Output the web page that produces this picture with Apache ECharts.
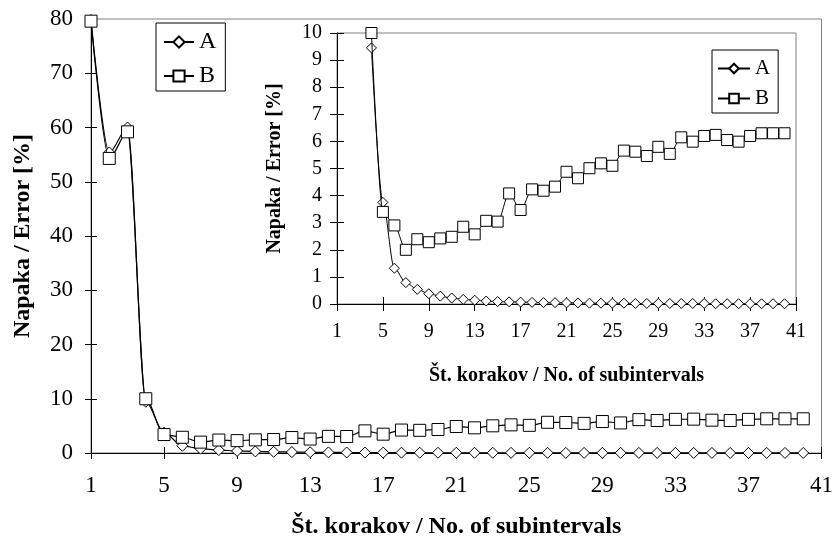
<!DOCTYPE html>
<html>
<head>
<meta charset="utf-8">
<style>
  html, body { margin: 0; padding: 0; background: #fff; }
  #error-chart { width: 836px; height: 544px; }
</style>
<script src="https://cdn.jsdelivr.net/npm/echarts@6/dist/echarts.min.js"></script>
</head>
<body>
<div id="error-chart"></div>
<script>
// step counts on the x axis (1..41), data exists for 1..40
const steps = [1, 2, 3, 4, 5, 6, 7, 8, 9, 10, 11, 12, 13, 14, 15, 16, 17, 18, 19, 20,
  21, 22, 23, 24, 25, 26, 27, 28, 29, 30, 31, 32, 33, 34, 35, 36, 37, 38, 39, 40, 41];

const errorA = [79.8, 55.4, 60.0, 9.45, 3.75, 1.32, 0.79, 0.54, 0.38, 0.29,
  0.22, 0.17, 0.14, 0.11, 0.09, 0.08, 0.07, 0.06, 0.05, 0.05,
  0.04, 0.04, 0.03, 0.03, 0.03, 0.03, 0.02, 0.02, 0.02, 0.02,
  0.02, 0.02, 0.02, 0.01, 0.01, 0.01, 0.01, 0.01, 0.01, 0.01];

const errorB = [79.6, 54.3, 59.2, 10.0, 3.4, 2.9, 2.0, 2.39, 2.28, 2.42,
  2.48, 2.85, 2.57, 3.07, 3.04, 4.08, 3.47, 4.23, 4.18, 4.33,
  4.88, 4.64, 5.01, 5.19, 5.10, 5.66, 5.62, 5.46, 5.80, 5.54,
  6.15, 5.99, 6.20, 6.24, 6.05, 5.99, 6.20, 6.30, 6.30, 6.30];

// inset only shows from step 4 on
const insetFrom = 4;

const font = "'Liberation Serif', 'Times New Roman', serif";

let initChart = () => {
  let chart = document.getElementById("error-chart");
  let errorChart = echarts.init(chart);

  let insetA = errorA.map((v, i) => (steps[i] >= insetFrom ? v : null));
  let insetB = errorB.map((v, i) => (steps[i] >= insetFrom ? v : null));

  // category axis, ticks/labels every 4th step; "inner" copy gives the crossing ticks
  let xCat = (grid, inner, len, labelSize, margin, name, nameSize, nameGap) => ({
    type: "category",
    gridIndex: grid,
    position: "bottom",
    data: steps,
    boundaryGap: false,
    axisLine: { show: !inner, onZero: false, lineStyle: { color: "#000", width: 1 } },
    axisTick: { show: true, inside: inner, length: len, interval: 3, lineStyle: { color: "#000" } },
    axisLabel: {
      show: !inner,
      interval: 3,
      margin: margin,
      color: "#000",
      fontFamily: font,
      fontSize: labelSize,
    },
    name: inner ? "" : name,
    nameLocation: "middle",
    nameGap: nameGap,
    nameTextStyle: { color: "#000", fontFamily: font, fontSize: nameSize, fontWeight: "bold" },
    splitLine: { show: false },
  });

  let yVal = (grid, inner, max, step, len, labelSize, margin, name, nameSize, nameGap) => ({
    type: "value",
    gridIndex: grid,
    position: "left",
    min: 0,
    max: max,
    interval: step,
    axisLine: { show: !inner, lineStyle: { color: "#000", width: 1 } },
    axisTick: { show: true, inside: inner, length: len, lineStyle: { color: "#000" } },
    axisLabel: {
      show: !inner,
      margin: margin,
      color: "#000",
      fontFamily: font,
      fontSize: labelSize,
    },
    name: inner ? "" : name,
    nameLocation: "middle",
    nameGap: nameGap,
    nameTextStyle: { color: "#000", fontFamily: font, fontSize: nameSize, fontWeight: "bold" },
    splitLine: { show: false },
  });

  let lineSeries = (name, data, xi, yi, symbol, size, width, z) => ({
    name: name,
    type: "line",
    data: data,
    xAxisIndex: xi,
    yAxisIndex: yi,
    symbol: symbol,
    symbolSize: size,
    showAllSymbol: true,
    smooth: 0.3,
    smoothMonotone: "x",
    connectNulls: false,
    lineStyle: { color: "#000", width: width },
    itemStyle: { color: "#fff", borderColor: "#000", borderWidth: 1 },
    z: z,
  });

  var option = {
    animation: false,
    backgroundColor: "#fff",
    grid: [
      {
        left: 91, right: 9, top: 19, bottom: 90,
        show: true, borderColor: "#808080", borderWidth: 1,
      },
      {
        left: 337, right: 40, top: 33, bottom: 240,
        show: true, borderColor: "#808080", borderWidth: 1,
      },
    ],
    xAxis: [
      xCat(0, false, 6, 23, 21, "Št. korakov / No. of subintervals", 24, 62),
      xCat(0, true, 6, 23, 21, "", 24, 62),
      xCat(1, false, 7, 20, 18, "Št. korakov / No. of subintervals", 20, 62),
      xCat(1, true, 7, 20, 18, "", 20, 62),
    ],
    yAxis: [
      yVal(0, false, 80, 10, 6, 23, 18, "Napaka / Error [%]", 24, 56),
      yVal(0, true, 80, 10, 6, 23, 18, "", 24, 56),
      yVal(1, false, 10, 1, 7, 20, 15, "Napaka / Error [%]", 20, 52),
      yVal(1, true, 10, 1, 7, 20, 15, "", 20, 52),
    ],
    legend: [
      {
        data: ["A", "B"],
        orient: "vertical",
        left: 156,
        top: 23,
        itemWidth: 30,
        itemHeight: 14,
        itemGap: 10,
        padding: [7, 9, 3, 7],
        borderColor: "#000",
        borderWidth: 1,
        selectedMode: false,
        textStyle: { color: "#000", fontFamily: font, fontSize: 24 },
      },
      {
        data: ["A", "B"],
        orient: "vertical",
        left: 712,
        top: 50,
        itemWidth: 32,
        itemHeight: 12,
        itemGap: 9,
        padding: [8, 8, 4, 5],
        borderColor: "#000",
        borderWidth: 1,
        selectedMode: false,
        textStyle: { color: "#000", fontFamily: font, fontSize: 21 },
      },
    ],
    series: [
      lineSeries("A", errorA, 0, 0, "diamond", 11, 1.2, 2),
      lineSeries("B", errorB, 0, 0, "rect", 12, 1.2, 3),
      lineSeries("A", insetA, 2, 2, "diamond", 10, 1, 2),
      lineSeries("B", insetB, 2, 2, "rect", 11, 1, 3),
    ],
  };

  errorChart.setOption(option);
  window.onresize = function () {
    errorChart.resize();
  };
};

initChart();
</script>
</body>
</html>
